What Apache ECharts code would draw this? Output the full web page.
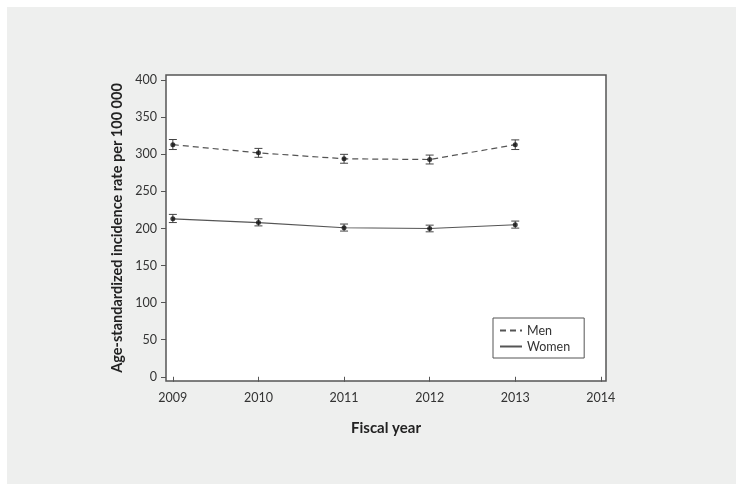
<!DOCTYPE html>
<html>
<head>
<meta charset="utf-8">
<script src="https://cdn.jsdelivr.net/npm/echarts@6/dist/echarts.min.js"></script>
<style>
  html, body { margin: 0; padding: 0; background: #fff; }
  #panel { position: absolute; left: 7px; top: 7px; width: 729px; height: 477px; background: #eeefee; }
  #chart { position: absolute; left: 0; top: 0; width: 744px; height: 493px; }
</style>
</head>
<body>
<div id="panel"></div>
<div id="chart"></div>
<script>
// fiscal years and rates per 100 000
const years = [2009, 2010, 2011, 2012, 2013];
const menRate = [313, 302, 294, 293, 313];
const menLow = [306.5, 296, 288, 287, 306.5];
const menHigh = [320, 308, 300, 299, 319.5];
const womenRate = [213, 208, 201, 200, 205];
const womenLow = [208, 203.5, 196.5, 195.5, 200.5];
const womenHigh = [219, 213, 206, 204.5, 210];
const xTicks = [2009, 2010, 2011, 2012, 2013, 2014];
const yTicks = [0, 50, 100, 150, 200, 250, 300, 350, 400];

const font = "Lato, 'Open Sans', sans-serif";
const lineColor = "#555";

function pairs(xs, ys) {
  return xs.map((x, i) => [x, ys[i]]);
}

function errorBars(low, high) {
  return years.map((y, i) => [y, low[i], high[i]]);
}

function renderErrorBar(params, api) {
  const top = api.coord([api.value(0), api.value(2)]);
  const bottom = api.coord([api.value(0), api.value(1)]);
  const half = 4;
  const style = { stroke: "#444", lineWidth: 1, fill: null };
  return {
    type: "group",
    children: [
      { type: "line", shape: { x1: top[0], y1: top[1], x2: bottom[0], y2: bottom[1] }, style: style },
      { type: "line", shape: { x1: top[0] - half, y1: top[1], x2: top[0] + half, y2: top[1] }, style: style },
      { type: "line", shape: { x1: bottom[0] - half, y1: bottom[1], x2: bottom[0] + half, y2: bottom[1] }, style: style }
    ]
  };
}

const myChart = echarts.init(document.getElementById("chart"));
const option = {
  backgroundColor: "transparent",
  animation: false,
  textStyle: { fontFamily: font },
  grid: {
    left: 166, right: 138, top: 75, bottom: 112,
    show: true, borderColor: lineColor, borderWidth: 1.5, backgroundColor: "#fff"
  },
  legend: {
    orient: "vertical",
    left: 493, top: 318,
    padding: [6, 14, 5, 6],
    itemGap: 3,
    itemWidth: 22,
    itemHeight: 10,
    borderColor: lineColor,
    borderWidth: 1,
    backgroundColor: "#fff",
    itemStyle: { opacity: 0 },
    lineStyle: { inactiveWidth: 1 },
    data: ["Men", "Women"],
    textStyle: { fontFamily: font, fontSize: 12.5, color: "#333" }
  },
  xAxis: {
    type: "value",
    min: 2008.92, max: 2014.06,
    name: "Fiscal year",
    nameLocation: "middle",
    nameGap: 40,
    nameTextStyle: { fontFamily: font, fontSize: 15, fontWeight: "bold", color: "#222" },
    axisLine: { show: false },
    splitLine: { show: false },
    axisTick: { show: true, length: 5, lineStyle: { color: lineColor }, customValues: xTicks },
    axisLabel: { customValues: xTicks, fontSize: 12.5, color: "#333", margin: 10, formatter: v => String(v) }
  },
  yAxis: {
    type: "value",
    min: -5.7, max: 407,
    name: "Age-standardized incidence rate per 100 000",
    nameLocation: "middle",
    nameGap: 37,
    nameTextStyle: { fontFamily: font, fontSize: 14.5, fontWeight: "bold", color: "#222" },
    axisLine: { show: false },
    splitLine: { show: false },
    axisTick: { show: true, length: 5, lineStyle: { color: lineColor }, customValues: yTicks },
    axisLabel: { customValues: yTicks, fontSize: 12.5, color: "#333", margin: 9 }
  },
  series: [
    {
      name: "Men", type: "line", data: pairs(years, menRate), symbol: "none",
      lineStyle: { color: lineColor, width: 1.2, type: [6, 4] }, itemStyle: { color: lineColor }
    },
    {
      name: "Women", type: "line", data: pairs(years, womenRate), symbol: "none",
      lineStyle: { color: lineColor, width: 1.2 }, itemStyle: { color: lineColor }
    },
    { type: "custom", data: errorBars(menLow, menHigh), renderItem: renderErrorBar, z: 3 },
    { type: "custom", data: errorBars(womenLow, womenHigh), renderItem: renderErrorBar, z: 3 },
    {
      type: "scatter", data: pairs(years, menRate), symbol: "circle", symbolSize: 5,
      itemStyle: { color: "#111" }, z: 4
    },
    {
      type: "scatter", data: pairs(years, womenRate), symbol: "circle", symbolSize: 5,
      itemStyle: { color: "#111" }, z: 4
    }
  ]
};
myChart.setOption(option);
</script>
</body>
</html>
